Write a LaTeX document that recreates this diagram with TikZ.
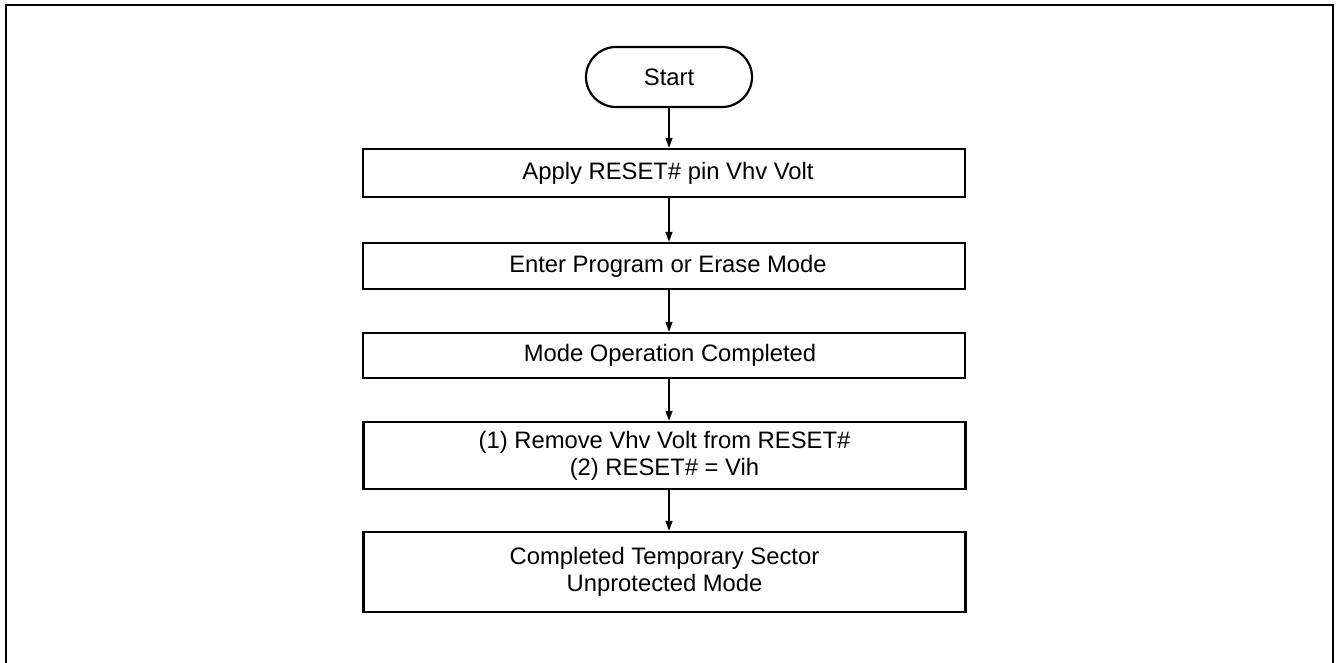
\documentclass[tikz,border=0pt]{standalone}
\usepackage{fontspec}
\setmainfont{Liberation Sans}
\usetikzlibrary{arrows.meta}
\begin{document}
\begin{tikzpicture}[x=1pt,y=-1pt,
  every node/.style={font=\fontsize{23.8pt}{27pt}\selectfont, align=center, inner sep=0pt},
  stepbox/.style={draw, line width=2.4pt, minimum width=602pt},
  termbox/.style={draw, line width=2.2pt, minimum width=166pt, minimum height=60pt, rounded corners=30pt},
  flow/.style={line width=1.4pt, -{Triangle[length=10pt,width=7pt]}}
]
\useasboundingbox (0,0) rectangle (1336,663);
\draw[line width=2pt] (6,664) -- (6,5) -- (1333,5) -- (1333,664);
\node[termbox] (start) at (669,77) {Start};
\node[stepbox, minimum height=48pt] (b1) at (664,173) {\hspace*{8pt}Apply RESET\# pin Vhv Volt};
\node[stepbox, minimum height=46pt] (b2) at (664,266) {\hspace*{8pt}Enter Program or Erase Mode};
\node[stepbox, minimum height=45pt] (b3) at (664,355.5) {\hspace*{12pt}Mode Operation Completed};
\node[stepbox, minimum height=67pt] (b4) at (664.5,455.5) {(1) Remove Vhv Volt from RESET\#\\(2) RESET\# = Vih};
\node[stepbox, minimum height=80pt] (b5) at (664.5,572) {Completed Temporary Sector\\Unprotected Mode};
\draw[flow] (start.south) -- (start.south |- b1.north);
\draw[flow] (start.south |- b1.south) -- (start.south |- b2.north);
\draw[flow] (start.south |- b2.south) -- (start.south |- b3.north);
\draw[flow] (start.south |- b3.south) -- (start.south |- b4.north);
\draw[flow] (start.south |- b4.south) -- (start.south |- b5.north);
\end{tikzpicture}
\end{document}
